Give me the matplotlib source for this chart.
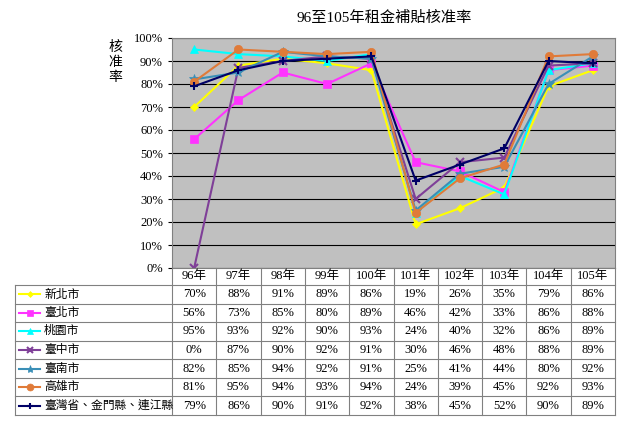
import matplotlib
matplotlib.use("Agg")
import matplotlib.pyplot as plt
from matplotlib.lines import Line2D

plt.rcParams['font.family'] = ['Liberation Serif', 'Noto Sans CJK TC']

years = ['96年', '97年', '98年', '99年', '100年', '101年', '102年', '103年', '104年', '105年']
names = ['新北市', '臺北市', '桃園市', '臺中市', '臺南市', '高雄市', '臺灣省、金門縣、連江縣']
new_taipei = [70, 88, 91, 89, 86, 19, 26, 35, 79, 86]
taipei = [56, 73, 85, 80, 89, 46, 42, 33, 86, 88]
taoyuan = [95, 93, 92, 90, 93, 24, 40, 32, 86, 89]
taichung = [0, 87, 90, 92, 91, 30, 46, 48, 88, 89]
tainan = [82, 85, 94, 92, 91, 25, 41, 44, 80, 92]
kaohsiung = [81, 95, 94, 93, 94, 24, 39, 45, 92, 93]
province = [79, 86, 90, 91, 92, 38, 45, 52, 90, 89]
series = [new_taipei, taipei, taoyuan, taichung, tainan, kaohsiung, province]

colors = ['#FFFF00', '#FF33FF', '#00FFFF', '#7F3F98', '#3A8FB7', '#E07B39', '#000066']
markers = ['D', 's', '^', 'x', '*', 'o', '+']
msizes = [4, 6, 6, 6, 7, 6, 6]

W, H = 640, 422
fig = plt.figure(figsize=(W / 100, H / 100), dpi=100)

# pixel layout
px0, px1, py0, py1 = 172, 615, 38, 268
tab_left, tab_bottom = 15, 415
head_h = 17
row_h = (tab_bottom - py1 - head_h) / len(names)

ax = fig.add_axes([px0 / W, 1 - py1 / H, (px1 - px0) / W, (py1 - py0) / H])
ax.set_facecolor('#C0C0C0')
x = list(range(len(years)))
for vals, c, m, ms in zip(series, colors, markers, msizes):
    ax.plot(x, vals, color=c, marker=m, markersize=ms, linewidth=1.5,
            markeredgewidth=1.5 if m in 'x+' else 0.5, markeredgecolor=c)
ax.set_xlim(-0.5, len(years) - 0.5)
ax.set_ylim(0, 100)
ax.set_yticks(range(0, 101, 10))
ax.set_yticklabels([f'{v}%' for v in range(0, 101, 10)], fontsize=9)
ax.yaxis.grid(True, color='black', linewidth=0.8)
ax.set_axisbelow(True)
ax.set_xticks([])
ax.tick_params(axis='y', length=3)
for s in ax.spines.values():
    s.set_color('#808080')

fig.text(0.6, 1 - 18 / H, '96至105年租金補貼核准率', ha='center', va='center', fontsize=11)
fig.text(115 / W, 1 - 62 / H, '核\n准\n率', ha='center', va='center', fontsize=10, linespacing=1.2)

# data table
t = fig.add_axes([0, 0, 1, 1])
t.set_xlim(0, W)
t.set_ylim(H, 0)
t.axis('off')
colw = (px1 - px0) / len(years)
lc = '#808080'
for i in range(len(years) + 1):
    xx = px0 + i * colw
    t.plot([xx, xx], [py1, tab_bottom], color=lc, lw=0.8)
for j, yr in enumerate(years):
    t.text(px0 + (j + 0.5) * colw, py1 + head_h / 2, yr, ha='center', va='center', fontsize=9)
t.plot([tab_left, tab_left], [py1 + head_h, tab_bottom], color=lc, lw=0.8)
for r in range(len(names) + 1):
    yy = py1 + head_h + r * row_h
    t.plot([tab_left, px1], [yy, yy], color=lc, lw=0.8)
for r, (nm, vals, c, m, ms) in enumerate(zip(names, series, colors, markers, msizes)):
    yc = py1 + head_h + (r + 0.5) * row_h
    t.add_line(Line2D([19, 40], [yc, yc], color=c, lw=1.5))
    t.plot([29.5], [yc], marker=m, color=c, markersize=ms - 1,
           markeredgewidth=1.5 if m in 'x+' else 0.5, markeredgecolor=c)
    t.text(44, yc, nm, ha='left', va='center', fontsize=8.5)
    for j, v in enumerate(vals):
        t.text(px0 + (j + 0.5) * colw, yc, f'{v}%', ha='center', va='center', fontsize=9)

fig.savefig('out.png', dpi=100)
